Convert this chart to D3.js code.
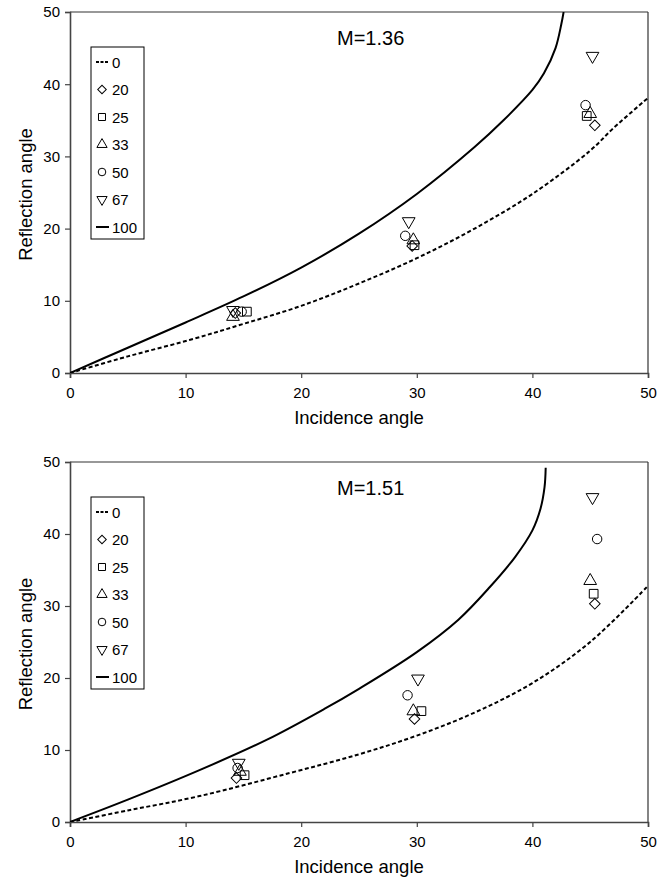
<!DOCTYPE html>
<html><head><meta charset="utf-8">
<script src="https://cdn.jsdelivr.net/npm/d3@7"></script>
<style>
html,body{margin:0;padding:0;background:#fff;}
text{font-family:"Liberation Sans",Arial,sans-serif;fill:#000;}
</style></head>
<body>
<svg id="chart" width="672" height="885"></svg>
<script>
// ---------------- data ----------------
const xTicks = [0, 10, 20, 30, 40, 50];
const yTicks = [0, 10, 20, 30, 40, 50];
const legendLabels = ["0", "20", "25", "33", "50", "67", "100"];
const panelTitles = ["M=1.36", "M=1.51"];

// theoretical curves, M=1.36
const curve0_M136 = [[0,0],[5,2.3],[10.4,4.6],[15,6.8],[20,9.3],[25,12.4],[30,15.9],[35,20.0],[40,24.8],[45,30.8],[47,33.9],[50,38.1]];
const curve100_M136 = [[0,0],[5,3.5],[10,7.0],[15,10.6],[20,14.6],[25,19.3],[30,24.8],[35,31.3],[37.5,35.0],[40,39.2],[41,41.5],[42,45.0],[42.5,48.3],[42.7,50]];
// theoretical curves, M=1.51
const curve0_M151 = [[0,0],[5,1.6],[11.2,3.6],[19,6.8],[25,9.4],[30,12.0],[35,15.2],[40,19.3],[45,25.0],[50,32.8]];
const curve100_M151 = [[0,0],[5,3.1],[11.2,7.2],[17,11.4],[22,15.7],[25,18.5],[30,23.6],[33.6,28.1],[36.3,32.6],[38.5,36.8],[40,40.5],[40.7,43.5],[41.05,46.5],[41.15,49.2]];

// measured points, M=1.36 (series 20, 25, 33, 50, 67)
const s20_M136 = [[14.3,8.3],[29.6,17.6],[45.4,34.3]];
const s25_M136 = [[15.3,8.5],[29.8,17.7],[44.7,35.6]];
const s33_M136 = [[14.1,7.8],[29.7,18.4],[45.0,35.9]];
const s50_M136 = [[14.85,8.5],[29.0,19.0],[44.6,37.1]];
const s67_M136 = [[14.1,8.7],[29.3,21.0],[45.2,43.9]];
// measured points, M=1.51
const s20_M151 = [[14.4,6.1],[29.8,14.3],[45.4,30.3]];
const s25_M151 = [[15.1,6.5],[30.4,15.4],[45.3,31.7]];
const s33_M151 = [[14.7,7.0],[29.7,15.4],[45.0,33.5]];
const s50_M151 = [[14.5,7.5],[29.2,17.6],[45.6,39.3]];
const s67_M151 = [[14.6,8.2],[30.1,19.9],[45.2,45.1]];

// ---------------- drawing ----------------
const svg = d3.select("#chart");
const left = 70, right = 648;

const panels = [
  {top: 12, bottom: 373, title: panelTitles[0], c0: curve0_M136, c100: curve100_M136,
   series: [s20_M136, s25_M136, s33_M136, s50_M136, s67_M136]},
  {top: 462, bottom: 822, title: panelTitles[1], c0: curve0_M151, c100: curve100_M151,
   series: [s20_M151, s25_M151, s33_M151, s50_M151, s67_M151]}
];

// symbol makers: diamond (rotated square), square, triangle up, circle, triangle down
const symDefs = [
  {type: d3.symbolSquare, rot: 45, size: 56},
  {type: d3.symbolSquare, rot: 0, size: 76},
  {type: d3.symbolTriangle, rot: 0, size: 70},
  {type: d3.symbolCircle, rot: 0, size: 70},
  {type: d3.symbolTriangle, rot: 180, size: 70}
];

panels.forEach(p => {
  const x = d3.scaleLinear().domain([0, 50]).range([left, right]);
  const y = d3.scaleLinear().domain([0, 50]).range([p.bottom, p.top]);
  const g = svg.append("g");

  const cid = "clip" + p.top;
  svg.append("clipPath").attr("id", cid).append("rect")
    .attr("x", left).attr("y", p.top).attr("width", right - left).attr("height", p.bottom - p.top);

  // frame (top & right)
  g.append("line").attr("x1", left).attr("x2", right).attr("y1", p.top).attr("y2", p.top)
    .attr("stroke", "#333").attr("stroke-width", 1.2);
  g.append("line").attr("x1", right).attr("x2", right).attr("y1", p.top).attr("y2", p.bottom)
    .attr("stroke", "#333").attr("stroke-width", 1.2);

  // axes
  const xa = g.append("g").attr("transform", `translate(0,${p.bottom})`)
    .call(d3.axisBottom(x).tickValues(xTicks).tickSize(5).tickPadding(9));
  const ya = g.append("g").attr("transform", `translate(${left},0)`)
    .call(d3.axisLeft(y).tickValues(yTicks).tickSize(5).tickPadding(5));
  [xa, ya].forEach(a => {
    a.select(".domain").attr("stroke", "#444").attr("stroke-width", 1.6);
    a.selectAll(".tick line").attr("stroke", "#444").attr("stroke-width", 1.2);
    a.selectAll(".tick text").attr("font-size", 15).attr("font-family", "Liberation Sans, Arial, sans-serif");
  });

  // axis titles
  g.append("text").attr("x", 359).attr("y", p.bottom + 51).attr("text-anchor", "middle")
    .attr("font-size", 18.5).text("Incidence angle");
  g.append("text").attr("transform", `translate(32,${(p.top + p.bottom) / 2 + 2}) rotate(-90)`)
    .attr("text-anchor", "middle").attr("font-size", 18.5).text("Reflection angle");

  // panel title
  g.append("text").attr("x", 337).attr("y", p.top + 33).attr("font-size", 20).text(p.title);

  // curves
  const line = d3.line().x(d => x(d[0])).y(d => y(d[1])).curve(d3.curveCatmullRom.alpha(0.5));
  const cg = g.append("g").attr("clip-path", `url(#${cid})`);
  cg.append("path").attr("d", line(p.c0)).attr("fill", "none").attr("stroke", "#000")
    .attr("stroke-width", 2).attr("stroke-dasharray", "4,2.5");
  cg.append("path").attr("d", line(p.c100)).attr("fill", "none").attr("stroke", "#000")
    .attr("stroke-width", 2);

  // markers
  p.series.forEach((s, i) => {
    const sd = symDefs[i];
    const sym = d3.symbol().type(sd.type).size(sd.size);
    g.selectAll(null).data(s).enter().append("path")
      .attr("d", sym)
      .attr("transform", d => `translate(${x(d[0])},${y(d[1])}) rotate(${sd.rot})`)
      .attr("fill", "none").attr("stroke", "#000").attr("stroke-width", 1);
  });

  // legend
  const ly0 = p.top + 35;
  const lg = g.append("g");
  lg.append("rect").attr("x", 91).attr("y", ly0).attr("width", 53).attr("height", 192)
    .attr("fill", "#fff").attr("stroke", "#000").attr("stroke-width", 1);
  legendLabels.forEach((lab, i) => {
    const cy = ly0 + 15 + i * 27.5;
    if (i === 0) {
      lg.append("line").attr("x1", 96).attr("x2", 109).attr("y1", cy).attr("y2", cy)
        .attr("stroke", "#000").attr("stroke-width", 2).attr("stroke-dasharray", "3,1.5");
    } else if (i === 6) {
      lg.append("line").attr("x1", 96).attr("x2", 109).attr("y1", cy).attr("y2", cy)
        .attr("stroke", "#000").attr("stroke-width", 2);
    } else {
      const sd = symDefs[i - 1];
      const sym = d3.symbol().type(sd.type).size(sd.size * 0.65);
      lg.append("path").attr("d", sym)
        .attr("transform", `translate(102,${cy}) rotate(${sd.rot})`)
        .attr("fill", "none").attr("stroke", "#000").attr("stroke-width", 1);
    }
    lg.append("text").attr("x", 112).attr("y", cy + 5.5).attr("font-size", 15).text(lab);
  });
});
</script>
</body></html>
